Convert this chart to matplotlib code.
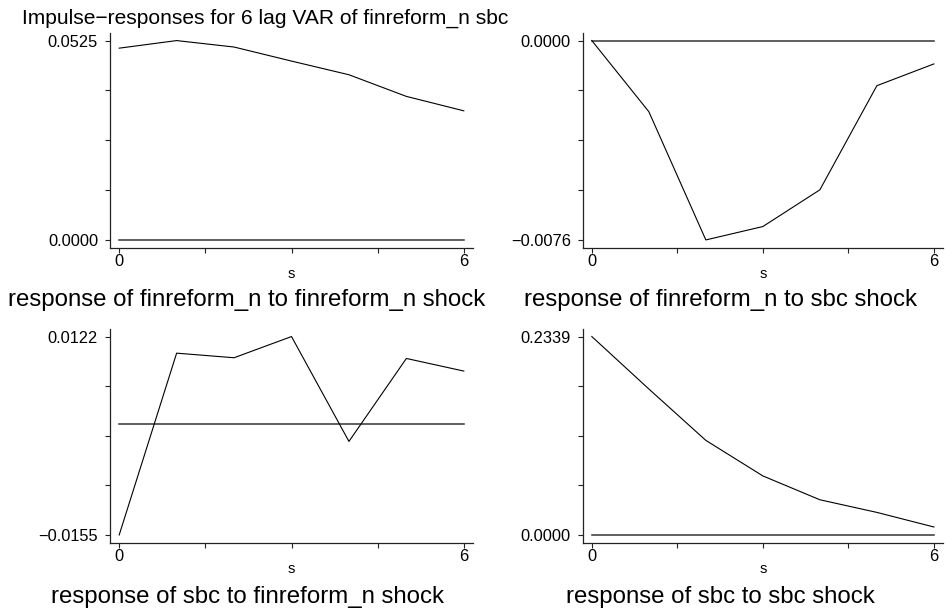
import matplotlib
matplotlib.use("Agg")
import matplotlib.pyplot as plt
import numpy as np

plt.rcParams['font.family'] = ['Liberation Sans', 'DejaVu Sans']

# step (horizon) values
steps = [0, 1, 2, 3, 4, 5, 6]

# impulse responses
fin_to_fin = [0.0505, 0.0525, 0.0508, 0.0471, 0.0435, 0.0378, 0.0340]
fin_to_sbc = [0.0, -0.00271, -0.0076, -0.00709, -0.00569, -0.00172, -0.00089]
sbc_to_fin = [-0.0155, 0.00988, 0.00924, 0.0122, -0.00244, 0.00914, 0.00738]
sbc_to_sbc = [0.2339, 0.1721, 0.1115, 0.0696, 0.0415, 0.0266, 0.0094]

# y axis end labels (min / max) for each panel
ylo = [0.0, -0.0076, -0.0155, 0.0]
yhi = [0.0525, 0.0, 0.0122, 0.2339]
ylabels = [("0.0000", "0.0525"), ("\u22120.0076", "0.0000"),
           ("\u22120.0155", "0.0122"), ("0.0000", "0.2339")]

series = [fin_to_fin, fin_to_sbc, sbc_to_fin, sbc_to_sbc]
titles = ["response of finreform_n to finreform_n shock",
          "response of finreform_n to sbc shock",
          "response of sbc to finreform_n shock",
          "response of sbc to sbc shock"]
main_title = "Impulse\u2212responses for 6 lag VAR of finreform_n sbc"

W, H = 946, 612
fig = plt.figure(figsize=(W / 100, H / 100), dpi=100)

# axes boxes in pixels: left, right, top, bottom
boxes = [(110, 473, 33, 248.3), (582.7, 943, 33, 248.3),
         (110, 473, 329, 543.3), (582.7, 943, 329, 543.3)]
cell_cx = [247, 720, 247, 720]
sub_y = [306, 603, 603, 603]
sub_y[1] = 306

for i in range(4):
    l, r, t, b = boxes[i]
    ax = fig.add_axes([l / W, 1 - b / H, (r - l) / W, (b - t) / H])
    ax.plot(steps, [0] * len(steps), color='#333333', lw=1.1)
    ax.plot(steps, series[i], color='black', lw=0.8)
    rng = yhi[i] - ylo[i]
    ax.set_xlim(-0.16, 6.16)
    ax.set_ylim(ylo[i] - 0.042 * rng, yhi[i] + 0.038 * rng)
    ax.set_xticks([0, 1.5, 3, 4.5, 6])
    ax.set_xticklabels(["0", "", "", "", "6"])
    yt = np.linspace(ylo[i], yhi[i], 5)
    ax.set_yticks(yt)
    ax.set_yticklabels([ylabels[i][0], "", "", "", ylabels[i][1]])
    for s in ['top', 'right']:
        ax.spines[s].set_visible(False)
    for s in ['left', 'bottom']:
        ax.spines[s].set_color('#222222')
        ax.spines[s].set_linewidth(0.9)
    ax.tick_params(axis='x', length=3.6, width=0.8, color='#222222', pad=0.5, labelsize=11.8)
    ax.tick_params(axis='y', length=3.6, width=0.8, color='#222222', pad=5, labelsize=11.8)
    ax.set_xlabel("s", fontsize=10.5, labelpad=-1.5)
    fig.text(cell_cx[i] / W, 1 - sub_y[i] / H, titles[i], fontsize=17.3,
             ha='center', va='baseline')

fig.text(21.7 / W, 1 - 23.3 / H, main_title, fontsize=15.1, ha='left', va='baseline')

fig.savefig("out.png", dpi=100, facecolor='white')
